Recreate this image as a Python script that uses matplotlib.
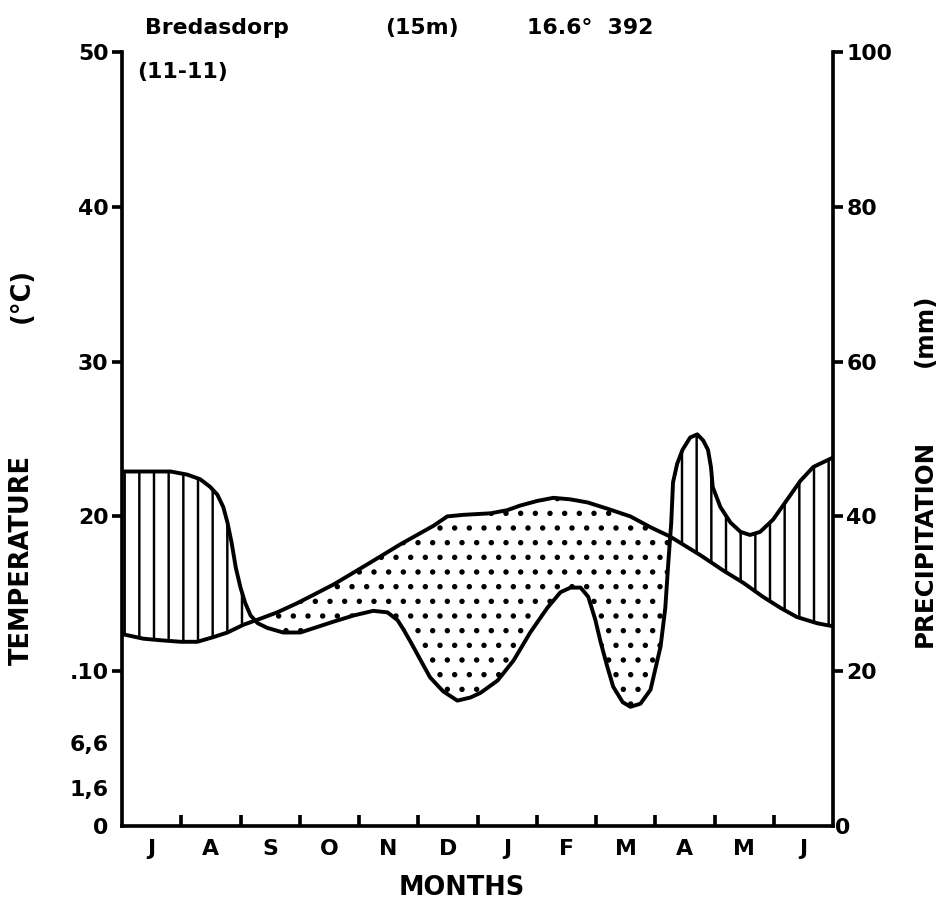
import numpy as np
import matplotlib
matplotlib.use('Agg')
import matplotlib.pyplot as plt

# 温度曲线 (月份位置, °C)
temp_x = [0.0, 0.36, 0.65, 0.99, 1.27, 1.54, 1.78, 2.05, 2.34, 2.62, 2.96, 3.57,
          4.14, 4.70, 5.26, 5.49, 5.76, 6.22, 6.50, 6.72, 7.01, 7.28, 7.57, 7.86,
          8.19, 8.58, 8.92, 9.25, 9.76, 10.15, 10.49, 10.82, 11.11, 11.39, 11.73, 12.0]
temp_c = [12.4, 12.1, 12.0, 11.9, 11.9, 12.2, 12.5, 13.0, 13.4, 13.8, 14.4, 15.6,
          16.9, 18.2, 19.4, 20.0, 20.1, 20.2, 20.4, 20.7, 21.0, 21.2, 21.1, 20.9,
          20.5, 20.0, 19.3, 18.7, 17.5, 16.5, 15.7, 14.8, 14.1, 13.5, 13.1, 12.9]

# 降水曲线 (月份位置, mm)
prec_x = [0.0, 0.82, 1.10, 1.32, 1.49, 1.61, 1.71, 1.78, 1.85, 1.92, 2.00, 2.08,
          2.17, 2.29, 2.45, 2.72, 3.01, 3.57, 3.91, 4.24, 4.48, 4.65, 4.75, 4.87,
          5.07, 5.20, 5.42, 5.66, 5.88, 6.05, 6.34, 6.61, 6.89, 7.18, 7.40, 7.57,
          7.74, 7.87, 7.99, 8.07, 8.19, 8.29, 8.45, 8.58, 8.75, 8.92, 9.09, 9.17,
          9.22, 9.27, 9.30, 9.37, 9.46, 9.59, 9.71, 9.81, 9.89, 9.94, 9.97, 10.10,
          10.27, 10.44, 10.60, 10.77, 10.99, 11.23, 11.45, 11.67, 12.0]
prec_mm = [45.8, 45.8, 45.4, 44.8, 43.8, 42.8, 41.2, 39.2, 36.6, 33.4, 30.8, 28.8,
           27.2, 26.2, 25.6, 25.0, 25.0, 26.4, 27.2, 27.8, 27.6, 26.6, 25.4, 23.8,
           21.0, 19.2, 17.4, 16.2, 16.6, 17.2, 18.8, 21.4, 25.0, 28.2, 30.2, 30.8,
           30.8, 29.6, 26.6, 24.0, 20.6, 18.0, 16.0, 15.4, 15.8, 17.6, 23.2, 28.2,
           34.0, 39.2, 44.4, 46.8, 48.6, 50.2, 50.6, 49.8, 48.6, 46.4, 43.8, 41.2,
           39.2, 38.0, 37.6, 38.0, 39.6, 42.2, 44.6, 46.4, 47.6]

months = ['J', 'A', 'S', 'O', 'N', 'D', 'J', 'F', 'M', 'A', 'M', 'J']
temp_ticks = [10, 20, 30, 40, 50]
temp_ticklabels = ['.10', '20', '30', '40', '50']
extra_pos = [0, 2.45, 5.36]
extra_labels = ['0', '1,6', '6,6']
prec_ticks = [20, 40, 60, 80, 100]

plt.rcParams['font.family'] = ['DejaVu Sans']
plt.rcParams['font.weight'] = 'bold'
plt.rcParams['hatch.linewidth'] = 2.0
plt.rcParams['hatch.color'] = 'black'

dpi = 88
fig = plt.figure(figsize=(945 / dpi, 908 / dpi), dpi=dpi)
ax = fig.add_axes([122 / 945, 1 - 826 / 908, (833 - 122) / 945, (826 - 52) / 908])

tx = np.array(temp_x)
tc = np.array(temp_c)
px = np.array(prec_x)
pc = np.array(prec_mm) / 2.0  # 降水按 2mm = 1°C 换算

# 合并网格用于填充
xs = np.union1d(tx, px)
t_i = np.interp(xs, tx, tc)
p_i = np.interp(xs, px, pc)
ax.fill_between(xs, t_i, p_i, where=p_i >= t_i, interpolate=True,
                facecolor='none', edgecolor='black', linewidth=0, hatch='|')
ax.fill_between(xs, t_i, p_i, where=t_i >= p_i, interpolate=True,
                facecolor='none', edgecolor='black', linewidth=0, hatch='.')

ax.plot(tx, tc, color='black', lw=3.2, solid_joinstyle='round', solid_capstyle='round')
ax.plot(px, pc, color='black', lw=3.2, solid_joinstyle='round', solid_capstyle='round')

ax.set_xlim(0, 12)
ax.set_ylim(0, 50)

for s in ['top', 'right']:
    ax.spines[s].set_visible(False)
for s in ['left', 'bottom']:
    ax.spines[s].set_linewidth(3)

fs = 18
# 左轴
ax.set_yticks(temp_ticks)
ax.set_yticklabels(temp_ticklabels, fontsize=fs, fontweight='bold')
ax.set_yticks(extra_pos, minor=True)
ax.set_yticklabels(extra_labels, minor=True, fontsize=fs, fontweight='bold')
ax.tick_params(axis='y', which='major', direction='out', length=8, width=3, pad=3)
ax.tick_params(axis='y', which='minor', length=0, pad=11)

# 下轴
ax.set_xticks(np.arange(1, 12))
ax.set_xticklabels([])
ax.set_xticks(np.arange(12) + 0.5, minor=True)
ax.set_xticklabels(months, minor=True, fontsize=fs, fontweight='bold')
ax.tick_params(axis='x', which='major', direction='in', length=9, width=3)
ax.tick_params(axis='x', which='minor', length=0, pad=11)

# 右轴
sec = ax.secondary_yaxis('right', functions=(lambda t: t * 2, lambda p: p / 2))
sec.spines['right'].set_linewidth(3)
sec.set_yticks(prec_ticks)
sec.set_yticklabels([str(v) for v in prec_ticks], fontsize=fs, fontweight='bold')
sec.set_yticks([0], minor=True)
sec.set_yticklabels(['0'], minor=True, fontsize=fs, fontweight='bold')
sec.tick_params(axis='y', which='major', direction='out', length=8, width=3, pad=3)
sec.tick_params(axis='y', which='minor', length=0, pad=2)

# 标题和标签
tfs = 18
fig.text(145 / 945, 1 - 28 / 908, 'Bredasdorp', fontsize=tfs, fontweight='bold', va='center', ha='left')
fig.text(385 / 945, 1 - 28 / 908, '(15m)', fontsize=tfs, fontweight='bold', va='center', ha='left')
fig.text(527 / 945, 1 - 28 / 908, '16.6°  392', fontsize=tfs, fontweight='bold', va='center', ha='left')
fig.text(137 / 945, 1 - 72 / 908, '(11-11)', fontsize=tfs, fontweight='bold', va='center', ha='left')

fig.text(22 / 945, 1 - 560 / 908, 'TEMPERATURE', rotation=90, fontsize=21,
         fontweight='bold', ha='center', va='center')
fig.text(22 / 945, 1 - 295 / 908, '(°C)', rotation=90, fontsize=21,
         fontweight='bold', ha='center', va='center')
fig.text(925 / 945, 1 - 543 / 908, 'PRECIPITATION', rotation=90, fontsize=20,
         fontweight='bold', ha='center', va='center')
fig.text(925 / 945, 1 - 330 / 908, '(mm)', rotation=90, fontsize=20,
         fontweight='bold', ha='center', va='center')
fig.text(462 / 945, 1 - 888 / 908, 'MONTHS', fontsize=21, fontweight='bold',
         ha='center', va='center')

fig.savefig('out.png', dpi=dpi)
